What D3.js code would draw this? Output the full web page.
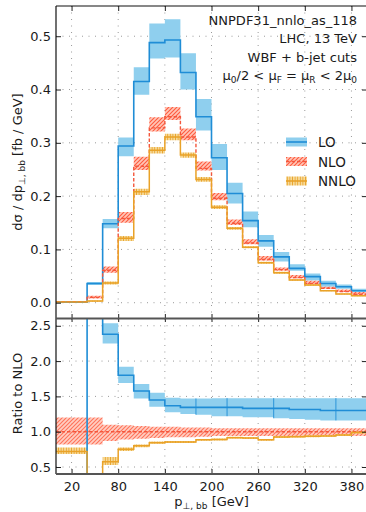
<!DOCTYPE html>
<html>
<head>
<meta charset="utf-8">
<script src="https://cdn.jsdelivr.net/npm/d3@7"></script>
<style>
  body { margin: 0; background: #fff; }
  svg { font-family: "DejaVu Sans", sans-serif; }
</style>
</head>
<body>
<svg id="chart" width="366" height="512"></svg>
<script>
// bins in p_T,bb [GeV]
const binEdges = [0, 20, 40, 60, 80, 100, 120, 140, 160, 180, 200, 220, 240, 260, 280, 300, 320, 340, 360, 380, 400];

// top panel: dsigma / dp [fb/GeV]
const loVal = [0.001, 0.001, 0.036, 0.148, 0.294, 0.415, 0.488, 0.493, 0.432, 0.349, 0.272, 0.205, 0.154, 0.116, 0.086, 0.0645, 0.049, 0.036, 0.030, 0.0225];
const loLow = [0.0005, 0.0005, 0.033, 0.1395, 0.275, 0.390, 0.458, 0.460, 0.400, 0.323, 0.249, 0.186, 0.1415, 0.105, 0.0775, 0.060, 0.0415, 0.030, 0.026, 0.017];
const loHigh = [0.0015, 0.0015, 0.039, 0.157, 0.310, 0.442, 0.524, 0.532, 0.468, 0.382, 0.298, 0.225, 0.171, 0.127, 0.095, 0.072, 0.055, 0.041, 0.034, 0.026];

const nloVal = [0.002, 0.002, 0.010, 0.061, 0.158, 0.256, 0.328, 0.349, 0.311, 0.252, 0.196, 0.149, 0.112, 0.081, 0.062, 0.047, 0.036, 0.027, 0.021, 0.016];
const nloLow = [0.001, 0.001, 0.008, 0.056, 0.150, 0.249, 0.321, 0.343, 0.305, 0.248, 0.192, 0.146, 0.1095, 0.079, 0.060, 0.0458, 0.035, 0.026, 0.020, 0.015];
const nloHigh = [0.003, 0.003, 0.013, 0.068, 0.170, 0.274, 0.348, 0.367, 0.327, 0.265, 0.206, 0.156, 0.119, 0.0876, 0.066, 0.052, 0.041, 0.030, 0.025, 0.020];

const nnloVal = [0.0015, 0.0015, 0.003, 0.037, 0.121, 0.208, 0.286, 0.311, 0.277, 0.231, 0.179, 0.1395, 0.104, 0.075, 0.056, 0.0426, 0.033, 0.0225, 0.0163, 0.013];
const nnloLow = [0.001, 0.001, 0.002, 0.034, 0.116, 0.202, 0.280, 0.305, 0.272, 0.227, 0.176, 0.137, 0.102, 0.073, 0.0545, 0.041, 0.032, 0.0215, 0.0155, 0.0122];
const nnloHigh = [0.002, 0.002, 0.004, 0.040, 0.125, 0.214, 0.292, 0.317, 0.282, 0.236, 0.183, 0.142, 0.106, 0.077, 0.058, 0.0442, 0.0345, 0.0235, 0.0172, 0.0138];

// ratio panel: ratio to NLO
const loRatio = [0.25, 0.3, 3.6, 2.38, 1.80, 1.576, 1.449, 1.368, 1.345, 1.345, 1.345, 1.345, 1.33, 1.33, 1.33, 1.315, 1.315, 1.30, 1.30, 1.30];
const loRatioLow = [0.1, 0.1, 3.2, 2.25, 1.69, 1.47, 1.355, 1.275, 1.25, 1.24, 1.22, 1.22, 1.205, 1.205, 1.19, 1.18, 1.17, 1.16, 1.16, 1.16];
const loRatioHigh = [0.35, 0.35, 4.0, 2.535, 1.92, 1.676, 1.552, 1.48, 1.47, 1.47, 1.475, 1.475, 1.475, 1.475, 1.475, 1.475, 1.475, 1.475, 1.475, 1.475];
const loRatioMarks = [180, 220, 280, 360];

const nloRatio = [1, 1, 1, 1, 1, 1, 1, 1, 1, 1, 1, 1, 1, 1, 1, 1, 1, 1, 1, 1];
const nloRatioLow = [0.82, 0.82, 0.82, 0.87, 0.89, 0.90, 0.91, 0.92, 0.92, 0.93, 0.94, 0.94, 0.94, 0.94, 0.94, 0.94, 0.94, 0.94, 0.94, 0.94];
const nloRatioHigh = [1.20, 1.20, 1.20, 1.10, 1.09, 1.08, 1.07, 1.07, 1.06, 1.06, 1.05, 1.05, 1.05, 1.05, 1.05, 1.05, 1.05, 1.05, 1.05, 1.05];

const nnloRatio = [0.72, 0.72, 0.30, 0.575, 0.75, 0.80, 0.845, 0.855, 0.855, 0.885, 0.89, 0.915, 0.91, 0.885, 0.925, 0.93, 0.935, 0.94, 0.955, 0.99];
const nnloRatioLow = [0.685, 0.685, 0.27, 0.53, 0.725, 0.78, 0.83, 0.84, 0.84, 0.872, 0.877, 0.902, 0.897, 0.872, 0.912, 0.917, 0.922, 0.927, 0.942, 0.975];
const nnloRatioHigh = [0.775, 0.775, 0.33, 0.64, 0.775, 0.82, 0.86, 0.87, 0.87, 0.898, 0.903, 0.928, 0.923, 0.898, 0.938, 0.943, 0.948, 0.953, 0.968, 1.005];

// ticks
const xTicks = [20, 80, 140, 200, 260, 320, 380];
const yTicksTop = [0.0, 0.1, 0.2, 0.3, 0.4, 0.5];
const yTicksRatio = [0.5, 1.0, 1.5, 2.0, 2.5];
const infoLines = ["NNPDF31_nnlo_as_118", "LHC, 13 TeV", "WBF + b-jet cuts"];
const legendNames = ["LO", "NLO", "NNLO"];

const col = {
    lo: "#1f8dd6", loBand: "#8fcfee",
    nlo: "#f4573c", nloHatch: "#ff5a3c", nloFill: "#ffc6b8",
    nnlo: "#e9a228", nnloHatch: "#eaa530", nnloFill: "#f8dfa2",
    grid: "#9a9a9a"
};

const svg = d3.select("#chart");
const left = 56, right = 367;
const top1 = 6, bot1 = 318, top2 = 319, bot2 = 474;

const x = d3.scaleLinear().domain([0, 400]).range([left, right]);
const yTop = d3.scaleLinear().domain([-0.0287, 0.5567]).range([bot1, top1]);
const yRat = d3.scaleLinear().domain([0.401, 2.596]).range([bot2, top2]);

const defs = svg.append("defs");
defs.append("clipPath").attr("id", "clipTop").append("rect")
    .attr("x", left).attr("y", top1).attr("width", right - left).attr("height", bot1 - top1);
defs.append("clipPath").attr("id", "clipRat").append("rect")
    .attr("x", left).attr("y", top2).attr("width", right - left).attr("height", bot2 - top2);

// hatch patterns
const pNlo = defs.append("pattern").attr("id", "hatchNlo").attr("patternUnits", "userSpaceOnUse")
    .attr("width", 4).attr("height", 4);
pNlo.append("rect").attr("width", 4).attr("height", 4).attr("fill", col.nloFill);
pNlo.append("path").attr("d", "M-1,1 l2,-2 M0,4 l4,-4 M3,5 l2,-2")
    .attr("stroke", col.nloHatch).attr("stroke-width", 1.1);

const pNnlo = defs.append("pattern").attr("id", "hatchNnlo").attr("patternUnits", "userSpaceOnUse")
    .attr("width", 2.6).attr("height", 4);
pNnlo.append("rect").attr("width", 2.6).attr("height", 4).attr("fill", col.nnloFill);
pNnlo.append("path").attr("d", "M1.3,0 V4").attr("stroke", col.nnloHatch).attr("stroke-width", 1);

function steps(vals) {
    const pts = vals.map((v, i) => [binEdges[i], v]);
    pts.push([binEdges[binEdges.length - 1], vals[vals.length - 1]]);
    return pts;
}
function bandPts(lo, hi) {
    const pts = lo.map((v, i) => [binEdges[i], v, hi[i]]);
    pts.push([binEdges[binEdges.length - 1], lo[lo.length - 1], hi[hi.length - 1]]);
    return pts;
}

function grid(yScale, ticks, y0, y1) {
    const g = svg.append("g").attr("stroke", col.grid).attr("stroke-width", 1)
        .attr("stroke-dasharray", "1,5.5");
    xTicks.forEach(t => g.append("line").attr("x1", x(t)).attr("x2", x(t)).attr("y1", y0).attr("y2", y1));
    ticks.forEach(t => g.append("line").attr("x1", left).attr("x2", right)
        .attr("y1", yScale(t)).attr("y2", yScale(t)));
}

function panel(yScale, clip, series) {
    const g = svg.append("g").attr("clip-path", `url(#${clip})`);
    const area = d3.area().curve(d3.curveStepAfter)
        .x(d => x(d[0])).y0(d => yScale(d[1])).y1(d => yScale(d[2]));
    const line = d3.line().curve(d3.curveStepAfter).x(d => x(d[0])).y(d => yScale(d[1]));
    series.forEach(s => {
        g.append("path").attr("d", area(bandPts(s.low, s.high)))
            .attr("fill", s.fill).attr("opacity", s.opacity || 1);
    });
    series.forEach(s => {
        g.append("path").attr("d", line(steps(s.val)))
            .attr("fill", "none").attr("stroke", s.color).attr("stroke-width", s.width)
            .attr("stroke-dasharray", s.dash || null);
    });
    return g;
}

grid(yTop, yTicksTop, top1, bot1);
grid(yRat, yTicksRatio, top2, bot2);

const topSeries = [
    { val: loVal, low: loLow, high: loHigh, fill: col.loBand, color: col.lo, width: 1.6 },
    { val: nloVal, low: nloLow, high: nloHigh, fill: "url(#hatchNlo)", color: col.nlo, width: 1.4, dash: "3.5,2" },
    { val: nnloVal, low: nnloLow, high: nnloHigh, fill: "url(#hatchNnlo)", color: col.nnlo, width: 1.5 }
];
panel(yTop, "clipTop", topSeries);

const ratSeries = [
    { val: loRatio, low: loRatioLow, high: loRatioHigh, fill: col.loBand, color: col.lo, width: 1.6 },
    { val: nloRatio, low: nloRatioLow, high: nloRatioHigh, fill: "url(#hatchNlo)", color: col.nlo, width: 1.4, dash: "3.5,2", opacity: 0.85 },
    { val: nnloRatio, low: nnloRatioLow, high: nnloRatioHigh, fill: "url(#hatchNnlo)", color: col.nnlo, width: 1.5 }
];
const gRat = panel(yRat, "clipRat", ratSeries);

// thin marks across the LO ratio band
loRatioMarks.forEach(e => {
    const i = binEdges.indexOf(e);
    gRat.append("line").attr("x1", x(e)).attr("x2", x(e))
        .attr("y1", yRat(loRatioHigh[i])).attr("y2", yRat(loRatioLow[i]))
        .attr("stroke", col.lo).attr("stroke-width", 0.9);
});

// axes
function styleAxis(g) {
    g.select(".domain").remove();
    g.selectAll("line").attr("stroke", "#222").attr("stroke-width", 1);
    g.selectAll("text").attr("font-size", 13).attr("fill", "#1a1a1a")
        .attr("font-family", "DejaVu Sans, sans-serif");
}
svg.append("g").attr("transform", `translate(${left},0)`)
    .call(d3.axisLeft(yTop).tickValues(yTicksTop).tickFormat(d3.format(".1f")).tickSize(-5).tickPadding(5))
    .call(styleAxis);
svg.append("g").attr("transform", `translate(${left},0)`)
    .call(d3.axisLeft(yRat).tickValues(yTicksRatio).tickFormat(d3.format(".1f")).tickSize(-5).tickPadding(5))
    .call(styleAxis);
svg.append("g").attr("transform", `translate(${right},0)`)
    .call(d3.axisRight(yTop).tickValues(yTicksTop).tickFormat("").tickSize(-5))
    .call(styleAxis);
svg.append("g").attr("transform", `translate(${right},0)`)
    .call(d3.axisRight(yRat).tickValues(yTicksRatio).tickFormat("").tickSize(-5))
    .call(styleAxis);
svg.append("g").attr("transform", `translate(0,${bot2})`)
    .call(d3.axisBottom(x).tickValues(xTicks).tickSize(-5).tickPadding(8))
    .call(styleAxis);
svg.append("g").attr("transform", `translate(0,${top1})`)
    .call(d3.axisTop(x).tickValues(xTicks).tickFormat("").tickSize(-5))
    .call(styleAxis);
// ticks crossing the panel separator
svg.append("g").attr("transform", `translate(0,${bot1})`)
    .call(d3.axisBottom(x).tickValues(xTicks).tickFormat("").tickSize(4).tickSizeInner(4))
    .call(styleAxis)
    .selectAll("line").attr("y1", -4);

// spines
svg.append("line").attr("x1", left).attr("x2", left).attr("y1", top1).attr("y2", bot2)
    .attr("stroke", "#111").attr("stroke-width", 1.2);
svg.append("line").attr("x1", left).attr("x2", right).attr("y1", top1).attr("y2", top1)
    .attr("stroke", "#111").attr("stroke-width", 1.2);
svg.append("line").attr("x1", left).attr("x2", right).attr("y1", (bot1 + top2) / 2).attr("y2", (bot1 + top2) / 2)
    .attr("stroke", "#555").attr("stroke-width", 2);
svg.append("line").attr("x1", left).attr("x2", right).attr("y1", bot2).attr("y2", bot2)
    .attr("stroke", "#555").attr("stroke-width", 1.8);

// axis labels
const xl = svg.append("text").attr("x", (left + right) / 2).attr("y", 506)
    .attr("text-anchor", "middle").attr("font-size", 13).attr("fill", "#1a1a1a");
xl.append("tspan").text("p");
xl.append("tspan").attr("font-size", 9).attr("dy", 3).text("\u22a5, bb");
xl.append("tspan").attr("dy", -3).text(" [GeV]");

const yl = svg.append("text")
    .attr("transform", `translate(22,${(top1 + bot1) / 2}) rotate(-90)`)
    .attr("text-anchor", "middle").attr("font-size", 13).attr("fill", "#1a1a1a");
yl.append("tspan").text("d\u03c3 / dp");
yl.append("tspan").attr("font-size", 9).attr("dy", 3).text("\u22a5, bb");
yl.append("tspan").attr("dy", -3).text(" [fb / GeV]");

svg.append("text")
    .attr("transform", `translate(22,${(top2 + bot2) / 2 - 3}) rotate(-90)`)
    .attr("text-anchor", "middle").attr("font-size", 13).attr("fill", "#1a1a1a")
    .text("Ratio to NLO");

// info text
infoLines.forEach((t, i) => {
    svg.append("text").attr("x", 357).attr("y", 25 + i * 18.3)
        .attr("text-anchor", "end").attr("font-size", 13).attr("fill", "#1a1a1a").text(t);
});
const mu = svg.append("text").attr("x", 357).attr("y", 25 + 3 * 18.3)
    .attr("text-anchor", "end").attr("font-size", 13).attr("fill", "#1a1a1a");
[["\u03bc", ""], ["0", "s"], ["/2 < \u03bc", ""], ["F", "s"], [" = \u03bc", ""], ["R", "s"], [" < 2\u03bc", ""], ["0", "s"]]
    .forEach(([t, k], i, arr) => {
        const prevSub = i > 0 && arr[i - 1][1] === "s";
        const ts = mu.append("tspan").text(t);
        if (k === "s") ts.attr("font-size", 9).attr("dy", 3);
        else if (prevSub) ts.attr("dy", -3);
    });

// legend
const legendStyle = [
    { fill: col.loBand, color: col.lo, dash: null },
    { fill: "url(#hatchNlo)", color: col.nlo, dash: "3.5,2" },
    { fill: "url(#hatchNnlo)", color: col.nnlo, dash: null }
];
legendNames.forEach((name, i) => {
    const yc = 142 + i * 19.5;
    const s = legendStyle[i];
    svg.append("rect").attr("x", 286).attr("y", yc - 4.5).attr("width", 21).attr("height", 9)
        .attr("fill", s.fill);
    svg.append("line").attr("x1", 286).attr("x2", 307).attr("y1", yc).attr("y2", yc)
        .attr("stroke", s.color).attr("stroke-width", 1.6).attr("stroke-dasharray", s.dash);
    svg.append("text").attr("x", 318).attr("y", yc + 5).attr("font-size", 13.5)
        .attr("fill", "#1a1a1a").text(name);
});
</script>
</body>
</html>
